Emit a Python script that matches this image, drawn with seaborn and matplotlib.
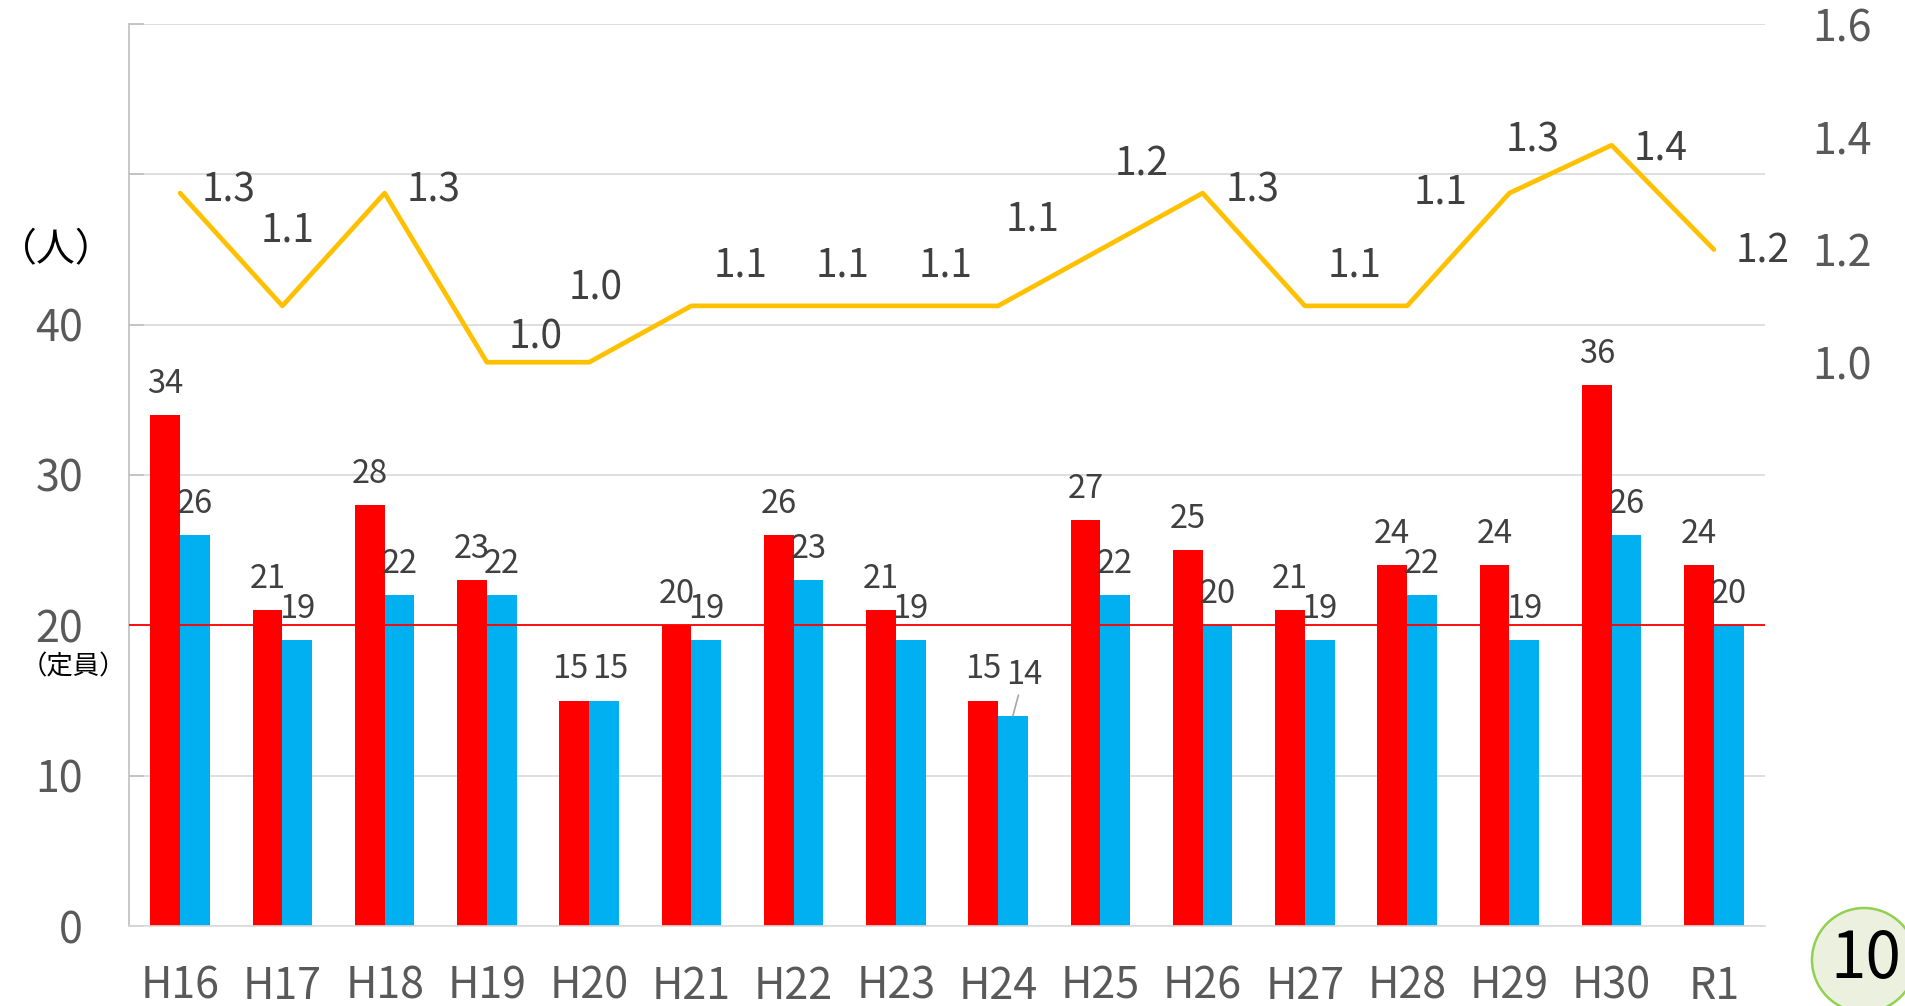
import numpy as np
import pandas as pd
import seaborn as sns
import matplotlib
matplotlib.use("Agg")
import matplotlib.pyplot as plt
from matplotlib.patches import Ellipse

# --- data ---------------------------------------------------------------
years = ["H16", "H17", "H18", "H19", "H20", "H21", "H22", "H23",
         "H24", "H25", "H26", "H27", "H28", "H29", "H30", "R1"]
applicants = [34, 21, 28, 23, 15, 20, 26, 21, 15, 27, 25, 21, 24, 24, 36, 24]
enrolled = [26, 19, 22, 22, 15, 19, 23, 19, 14, 22, 20, 19, 22, 19, 26, 20]
ratio = [1.3, 1.1, 1.3, 1.0, 1.0, 1.1, 1.1, 1.1, 1.1, 1.2, 1.3, 1.1, 1.1, 1.3, 1.385, 1.2]
ratio_labels = ["1.3", "1.1", "1.3", "1.0", "1.0", "1.1", "1.1", "1.1",
                "1.1", "1.2", "1.3", "1.1", "1.1", "1.3", "1.4", "1.2"]
capacity = 20
page_no = "10"

# label offsets for the ratio line (pixels, x right / y up) - hand placed like the original
ratio_offsets = [(48, 3), (5, 75), (49, 3), (49, 25), (6, 74), (49, 40), (49, 40), (50, 40),
                 (34, 86), (41, 85), (50, 3), (50, 40), (33, 113), (23, 53), (49, -3), (49, -2)]

RED = "#FF0000"
BLUE = "#00B0F0"
GOLD = "#FFC000"
GRID = "#D9D9D9"
TICK = "#595959"
LABEL = "#404040"

W, H = 1905, 1006
PX = 0.72  # pixels -> points at dpi 100

sns.set_theme(style="white")
plt.rcParams["font.family"] = ["Noto Sans CJK JP", "DejaVu Sans"]

df = pd.DataFrame({
    "year": years * 2,
    "count": applicants + enrolled,
    "kind": ["applicants"] * len(years) + ["enrolled"] * len(years),
})

fig = plt.figure(figsize=(W / 100, H / 100), dpi=100)
ax = fig.add_axes([129 / W, 80 / H, (1765 - 129) / W, (926 - 24) / H])

sns.barplot(data=df, x="year", y="count", hue="kind", palette=[RED, BLUE],
            width=0.58, saturation=1, legend=False, ax=ax, zorder=2)
for c in ax.containers:
    for p in c.patches:
        p.set_edgecolor("none")

ax.set_xlim(-0.5, len(years) - 0.5)
ax.set_ylim(0, 60)
ax.set_yticks(range(0, 61, 10))
ax.set_yticklabels([str(v) if v <= 40 else "" for v in range(0, 61, 10)])
ax.grid(axis="y", color=GRID, lw=1.2, zorder=0)
ax.set_axisbelow(True)
ax.set_xlabel("")
ax.set_ylabel("")
for s in ["top", "right"]:
    ax.spines[s].set_visible(False)
ax.spines["left"].set_color("#BFBFBF")
ax.spines["left"].set_linewidth(1.2)
ax.spines["bottom"].set_color(GRID)
ax.spines["bottom"].set_linewidth(1.2)
ax.tick_params(axis="y", direction="in", length=11, width=1.2, color="#BFBFBF",
               pad=33, labelsize=31, labelcolor=TICK)
ax.tick_params(axis="x", length=0, pad=28, labelsize=31, labelcolor=TICK)

# capacity line
ax.axhline(capacity, color=RED, lw=1.3, zorder=3)

# bar value labels (H20 pair nudged apart, H24 blue label pulled out with a leader)
for k, (series, cont) in enumerate(zip([applicants, enrolled], ax.containers)):
    for i, (p, v) in enumerate(zip(cont.patches, series)):
        xc = p.get_x() + p.get_width() / 2
        if k == 1 and years[i] == "H24":
            ax.annotate(str(v), xy=(xc, v), xytext=(11 * PX, 41 * PX),
                        textcoords="offset points", ha="center", va="center",
                        fontsize=23.5, color=LABEL,
                        arrowprops=dict(arrowstyle="-", color="#A6A6A6", lw=1.2,
                                        shrinkA=1, shrinkB=0))
        else:
            dx = (-4 if k == 0 else 6) if years[i] == "H20" else 0
            ax.annotate(str(v), xy=(xc, v), xytext=(dx * PX, 31 * PX),
                        textcoords="offset points", ha="center", va="center",
                        fontsize=23.5, color=LABEL)

# ratio line on secondary axis
ax2 = ax.twinx()
sns.lineplot(x=years, y=ratio, ax=ax2, color=GOLD, lw=3.4, sort=False, zorder=4)
ax2.set_ylim(0, 1.6)
ax2.set_yticks([1.0, 1.2, 1.4, 1.6])
ax2.set_yticklabels(["1.0", "1.2", "1.4", "1.6"])
ax2.tick_params(axis="y", length=0, pad=34, labelsize=31, labelcolor=TICK)
for s in ax2.spines.values():
    s.set_visible(False)
ax2.grid(False)
for i, (v, t, off) in enumerate(zip(ratio, ratio_labels, ratio_offsets)):
    ax2.annotate(t, xy=(i, v), xytext=(off[0] * PX, off[1] * PX),
                 textcoords="offset points", ha="center", va="center",
                 fontsize=28, color=LABEL)

# unit labels
fig.text(56 / W, 1 - 250 / H, "（人）", ha="center", va="center", fontsize=28, color="black")
fig.text(73 / W, 1 - 667 / H, "（定員）", ha="center", va="center", fontsize=19, color="black")

# page number badge
fig.add_artist(Ellipse((1864 / W, 1 - 960 / H), 104 / W, 104 / H, transform=fig.transFigure,
                       facecolor="#EBF1DE", edgecolor="#92D050", lw=1.8, zorder=5))
fig.text(1866 / W, 1 - 960 / H, page_no, ha="center", va="center", fontsize=46,
         color="black", zorder=6)

fig.savefig("out.png", dpi=100)
